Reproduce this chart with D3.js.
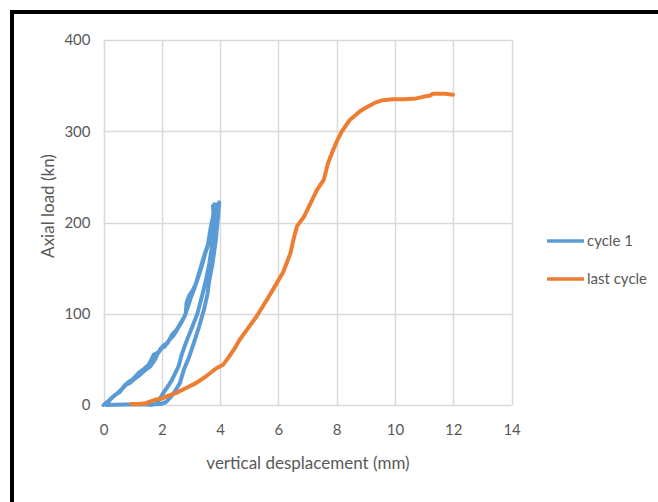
<!DOCTYPE html>
<html>
<head>
<meta charset="utf-8">
<script src="https://cdn.jsdelivr.net/npm/d3@7"></script>
<style>
  body { margin: 0; background: #fff; }
  svg { display: block; font-family: Lato, "Open Sans", sans-serif; }
</style>
</head>
<body>
<div id="chart"></div>
<script>
(function() {
    'use strict';

    // cycle 1 : [displacement (mm), load (kN)]
    var cycle1 = [
      [0, 0], [0.2, 5], [0.39, 11], [0.55, 14], [0.74, 22], [0.9, 24], [1.08, 29],
      [1.25, 33], [1.42, 38], [1.6, 42], [1.77, 50], [1.85, 56], [1.97, 62], [2.1, 64],
      [2.25, 71], [2.4, 76], [2.59, 86], [2.7, 92], [2.82, 100], [2.85, 112], [2.94, 120],
      [3.05, 125], [3.17, 133], [3.28, 145], [3.4, 158], [3.5, 168], [3.63, 180],
      [3.7, 192], [3.74, 202], [3.8, 220], [3.85, 215], [3.97, 222],
      [3.91, 200], [3.85, 180], [3.74, 155], [3.62, 135], [3.57, 122], [3.45, 105],
      [3.28, 86], [3.1, 68], [2.94, 53], [2.75, 38], [2.62, 24], [2.45, 15], [2.34, 10],
      [2.14, 3], [1.96, 1], [1.5, 0.5], [0.8, 0.5], [0.1, 0],
      [0.25, 7], [0.45, 12], [0.65, 18], [0.85, 25], [1.0, 28], [1.2, 35], [1.4, 40],
      [1.55, 44], [1.72, 55], [1.9, 58], [2.05, 65], [2.2, 68], [2.35, 77], [2.5, 82],
      [2.65, 90], [2.78, 97], [2.9, 108], [3.0, 118], [3.12, 128], [3.25, 140],
      [3.35, 150], [3.48, 165], [3.58, 175], [3.68, 195], [3.78, 210], [3.75, 218],
      [3.9, 220],
      [3.85, 200], [3.8, 191], [3.7, 170], [3.63, 155], [3.5, 135], [3.4, 122],
      [3.22, 100], [3.05, 86], [2.85, 70], [2.69, 56], [2.57, 42], [2.45, 34],
      [2.34, 27], [2.2, 20], [2.05, 13], [1.9, 5], [1.79, 1], [1.6, 0]
    ];

    // last cycle
    var lastCycle = [
      [0.95, 1], [1.2, 1], [1.45, 2], [1.79, 6], [2.0, 7], [2.2, 10], [2.48, 13],
      [2.8, 18], [3.17, 24], [3.5, 31], [3.86, 40], [4.1, 44], [4.31, 53], [4.5, 62],
      [4.66, 71], [4.91, 82], [5.25, 97], [5.6, 115], [5.88, 130], [6.17, 146],
      [6.41, 166], [6.53, 183], [6.64, 196], [6.87, 206], [7.1, 221], [7.33, 236],
      [7.56, 247], [7.7, 265], [7.87, 279], [8.05, 292], [8.18, 300], [8.44, 312],
      [8.8, 322], [9.01, 326], [9.3, 331], [9.58, 334], [9.92, 335], [10.3, 335],
      [10.73, 336], [11.0, 338], [11.19, 339], [11.3, 341], [11.7, 341], [11.99, 340]
    ];

    var xTicks = [0, 2, 4, 6, 8, 10, 12, 14];
    var yTicks = [0, 100, 200, 300, 400];
    var seriesNames = ['cycle 1', 'last cycle'];
    var seriesColors = ['#5b9bd5', '#ed7d31'];

    var fullWidth = 658, fullHeight = 502;
    var plot = { left: 103.5, right: 511.6, top: 40, bottom: 405 };

    var svg = d3.select('#chart')
    .append('svg')
      .attr('width', fullWidth)
      .attr('height', fullHeight);

    svg.append('rect')
      .attr('width', fullWidth)
      .attr('height', fullHeight)
      .attr('fill', '#fff');

    // black frame (only top and left edges are visible)
    svg.append('path')
      .attr('d', 'M12,' + fullHeight + 'V12H' + fullWidth)
      .attr('fill', 'none')
      .attr('stroke', '#000')
      .attr('stroke-width', 4);

    var x = d3.scaleLinear()
      .domain([xTicks[0], xTicks[xTicks.length - 1]])
      .range([plot.left, plot.right]);

    var y = d3.scaleLinear()
      .domain([yTicks[0], yTicks[yTicks.length - 1]])
      .range([plot.bottom, plot.top]);

    var chart = svg.append('g');

    chart.append('g')
      .attr('id', 'verticalGrid')
    .selectAll('line')
    .data(xTicks)
    .enter().append('line')
      .attr('x1', function(d) { return Math.round(x(d)) + 0.5; })
      .attr('x2', function(d) { return Math.round(x(d)) + 0.5; })
      .attr('y1', plot.top)
      .attr('y2', plot.bottom)
      .attr('stroke', '#d9d9d9')
      .attr('stroke-width', 1.5);

    chart.append('g')
      .attr('id', 'horizontalGrid')
    .selectAll('line')
    .data(yTicks)
    .enter().append('line')
      .attr('x1', plot.left)
      .attr('x2', plot.right)
      .attr('y1', function(d) { return Math.round(y(d)) + 0.5; })
      .attr('y2', function(d) { return Math.round(y(d)) + 0.5; })
      .attr('stroke', '#d9d9d9')
      .attr('stroke-width', 1.5);

    var xAxis = d3.axisBottom(x)
      .tickValues(xTicks)
      .tickSize(0)
      .tickPadding(19)
      .tickFormat(d3.format('d'));

    chart.append('g')
      .attr('id', 'xAxis')
      .attr('transform', 'translate(0,' + plot.bottom + ')')
    .call(xAxis)
    .call(function(g) { g.select('.domain').remove(); })
      .selectAll('text')
      .attr('fill', '#595959')
      .style('font-size', '15px')
      .style('font-family', 'Lato, sans-serif');

    var yAxis = d3.axisLeft(y)
      .tickValues(yTicks)
      .tickSize(0)
      .tickPadding(13)
      .tickFormat(d3.format('d'));

    chart.append('g')
      .attr('id', 'yAxis')
      .attr('transform', 'translate(' + plot.left + ',0)')
    .call(yAxis)
    .call(function(g) { g.select('.domain').remove(); })
      .selectAll('text')
      .attr('fill', '#595959')
      .style('font-size', '15px')
      .style('font-family', 'Lato, sans-serif');

    // axis titles
    svg.append('text')
      .attr('x', 308)
      .attr('y', 469)
      .attr('text-anchor', 'middle')
      .attr('fill', '#595959')
      .style('font-size', '17px')
      .text('vertical desplacement (mm)');

    svg.append('text')
      .attr('transform', 'translate(54,' + 206 + ') rotate(-90)')
      .attr('text-anchor', 'middle')
      .attr('fill', '#595959')
      .style('font-size', '17px')
      .text('Axial load (kn)');

    var lineGen = d3.line()
      .x(function(d) { return x(d[0]); })
      .y(function(d) { return y(d[1]); });

    chart.append('g')
      .attr('id', 'series')
    .selectAll('path')
    .data([cycle1, lastCycle])
    .enter().append('path')
      .attr('d', function(d) { return lineGen(d); })
      .attr('fill', 'none')
      .attr('stroke', function(d, i) { return seriesColors[i]; })
      .attr('stroke-width', 4)
      .attr('stroke-linejoin', 'round')
      .attr('stroke-linecap', 'round');

    // Legend
    var legend = svg.append('g')
      .attr('id', 'legend')
    .selectAll('g')
    .data(seriesNames)
    .enter().append('g')
      .attr('transform', function(d, i) { return 'translate(547,' + (241 + i * 38) + ')'; });

    legend.append('line')
      .attr('x1', 0)
      .attr('x2', 37)
      .attr('stroke', function(d, i) { return seriesColors[i]; })
      .attr('stroke-width', 3.5);

    legend.append('text')
      .attr('x', 40)
      .attr('dy', '0.35em')
      .attr('fill', '#595959')
      .style('font-size', '15px')
      .text(function(d) { return d; });

})();
</script>
</body>
</html>
